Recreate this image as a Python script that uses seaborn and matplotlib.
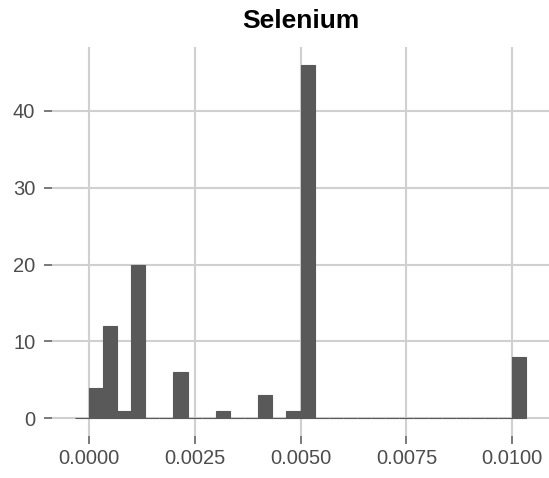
import numpy as np
import pandas as pd
import matplotlib
matplotlib.use("Agg")
import matplotlib.pyplot as plt
import seaborn as sns

# ---- data (histogram counts) ----
bin_width = 1 / 3000          # width of each histogram bin
first_edge = -1 / 3000        # left edge of the first (empty) bin
counts = [0, 4, 12, 1, 20, 0, 0, 6, 0, 0, 1, 0, 0, 3, 0, 1, 46,
          0, 0, 0, 0, 0, 0, 0, 0, 0, 0, 0, 0, 0, 0, 8]
x_ticks = [0.0, 0.0025, 0.005, 0.0075, 0.01]
x_tick_labels = ["0.0000", "0.0025", "0.0050", "0.0075", "0.0100"]
y_ticks = [0, 10, 20, 30, 40]
title = "Selenium"

edges = first_edge + bin_width * np.arange(len(counts) + 1)
centers = (edges[:-1] + edges[1:]) / 2
df = pd.DataFrame({"value": centers, "count": counts})

sns.set_theme(style="white")
plt.rcParams["font.family"] = ["Liberation Sans", "DejaVu Sans"]

fig = plt.figure(figsize=(5.49, 4.78), dpi=100)
W, H = 549, 478
ax = fig.add_axes([52 / W, (H - 436) / H, (549 - 52) / W, (436 - 47) / H])

sns.histplot(data=df, x="value", weights="count", bins=list(edges), ax=ax,
             color="#595959", alpha=1, edgecolor="#595959", linewidth=0.8,
             zorder=3)

xmin, xmax = edges[0], edges[-1]
pad_x = (xmax - xmin) * 0.05
ax.set_xlim(xmin - pad_x, xmax + pad_x)
top = max(counts)
ax.set_ylim(-0.05 * top, top * 1.05)

ax.set_xticks(x_ticks)
ax.set_xticklabels(x_tick_labels)
ax.set_yticks(y_ticks)
ax.set_xlabel("")
ax.set_ylabel("")

for s in ax.spines.values():
    s.set_visible(False)

ax.grid(True, color="#D0D0D0", linewidth=1.5, zorder=0)
ax.set_axisbelow(True)
ax.tick_params(axis="both", which="major", length=6, width=1.1,
               color="#555555", labelcolor="#4D4D4D", labelsize=14.5,
               bottom=True, left=True)
ax.tick_params(axis="x", pad=3.5)
ax.tick_params(axis="y", pad=6)

ax.set_title(title, fontsize=19, fontweight="bold", color="black", pad=13.5)

fig.savefig("out.png", dpi=100)
